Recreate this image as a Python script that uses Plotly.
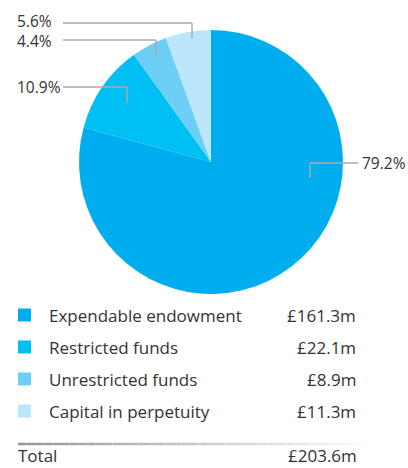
import plotly.graph_objects as go

# Fund breakdown (£m)
categories = ["Expendable endowment", "Restricted funds", "Unrestricted funds", "Capital in perpetuity"]
values = [161.3, 22.1, 8.9, 11.3]
colors = ["#00AEEF", "#00BFF3", "#6DCFF6", "#BDE6FA"]

total = round(sum(values), 1)
shares = [v / total * 100 for v in values]

W, H = 408, 468
TEXT = "#333333"
LEAD = "#AAAAAA"
FONT = "Open Sans"
PCT_SIZE = 15.5


def px(x):
    return x / W


def py(y):
    return 1 - y / H


# pie geometry in pixels
cx, cy, r = 211, 162, 132

fig = go.Figure(
    go.Pie(
        labels=categories,
        values=values,
        marker=dict(colors=colors, line=dict(width=0)),
        sort=False,
        direction="clockwise",
        rotation=0,
        textinfo="none",
        hoverinfo="label+value+percent",
        showlegend=False,
        domain=dict(x=[px(cx - r), px(cx + r)], y=[py(cy + r), py(cy - r)]),
    )
)

shapes = []
annotations = []

# leader lines: line y, elbow x, end y, side
leaders = {
    0: dict(ly=163, ex=310, ey=178, side="right"),
    1: dict(ly=87, ex=127, ey=103, side="left"),
    2: dict(ly=40, ex=156, ey=56, side="left"),
    3: dict(ly=23, ex=192, ey=38, side="left"),
}
for i, ld in leaders.items():
    x0 = 63 if ld["side"] == "left" else 358
    shapes.append(dict(type="line", xref="paper", yref="paper",
                       x0=px(x0), y0=py(ld["ly"]), x1=px(ld["ex"]), y1=py(ld["ly"]),
                       line=dict(color=LEAD, width=1.5)))
    shapes.append(dict(type="line", xref="paper", yref="paper",
                       x0=px(ld["ex"]), y0=py(ld["ly"]), x1=px(ld["ex"]), y1=py(ld["ey"]),
                       line=dict(color=LEAD, width=1.5)))


def pct_label(text, x, y, anchor="left"):
    annotations.append(dict(xref="paper", yref="paper", x=px(x), y=py(y),
                            xanchor=anchor, yanchor="middle", align="left", borderpad=0,
                            text=text, showarrow=False,
                            font=dict(family=FONT, size=PCT_SIZE, color=TEXT)))


pct_label(f"{shares[0]:.1f}%", 361, leaders[0]["ly"])
pct_label(f"{shares[1]:.1f}%", 16, leaders[1]["ly"])
# the two thin slices share a stacked label block
pct_label(f"{shares[3]:.1f}%<br>{shares[2]:.1f}%", 16,
          (leaders[3]["ly"] + leaders[2]["ly"]) / 2)

# legend table
row_y0, row_step = 315, 32
for i, (cat, val, col) in enumerate(zip(categories, values, colors)):
    y = row_y0 + i * row_step
    shapes.append(dict(type="rect", xref="paper", yref="paper",
                       x0=px(18), x1=px(31), y0=py(y - 6.5), y1=py(y + 6.5),
                       fillcolor=col, line=dict(width=0)))
    annotations.append(dict(xref="paper", yref="paper", x=px(47), y=py(y),
                            xanchor="left", yanchor="middle", text=cat, showarrow=False,
                            font=dict(family=FONT, size=17, color=TEXT)))
    annotations.append(dict(xref="paper", yref="paper", x=px(358), y=py(y),
                            xanchor="right", yanchor="middle", text=f"£{val}m", showarrow=False,
                            font=dict(family=FONT, size=17, color=TEXT)))

# fading rule above the total
n_seg = 40
x_start, x_end = 18, 362
for k in range(n_seg):
    t = k / (n_seg - 1)
    g = int(150 + (250 - 150) * t)
    shapes.append(dict(type="line", xref="paper", yref="paper",
                       x0=px(x_start + (x_end - x_start) * k / n_seg),
                       x1=px(x_start + (x_end - x_start) * (k + 1) / n_seg),
                       y0=py(444), y1=py(444),
                       line=dict(color=f"rgb({g},{g},{g})", width=2.5)))

# total row, anchored to the bottom edge so it stays inside the page
annotations.append(dict(xref="paper", yref="paper", x=px(17), y=0,
                        xanchor="left", yanchor="bottom", borderpad=0, text="Total",
                        showarrow=False, font=dict(family=FONT, size=17, color=TEXT)))
annotations.append(dict(xref="paper", yref="paper", x=px(358), y=0,
                        xanchor="right", yanchor="bottom", borderpad=0, text=f"£{total}m",
                        showarrow=False, font=dict(family=FONT, size=17, color=TEXT)))

fig.update_layout(
    width=W, height=H,
    margin=dict(l=0, r=0, t=0, b=0),
    paper_bgcolor="white", plot_bgcolor="white",
    shapes=shapes, annotations=annotations,
)

fig.write_html("out.html", config={"displayModeBar": False})
